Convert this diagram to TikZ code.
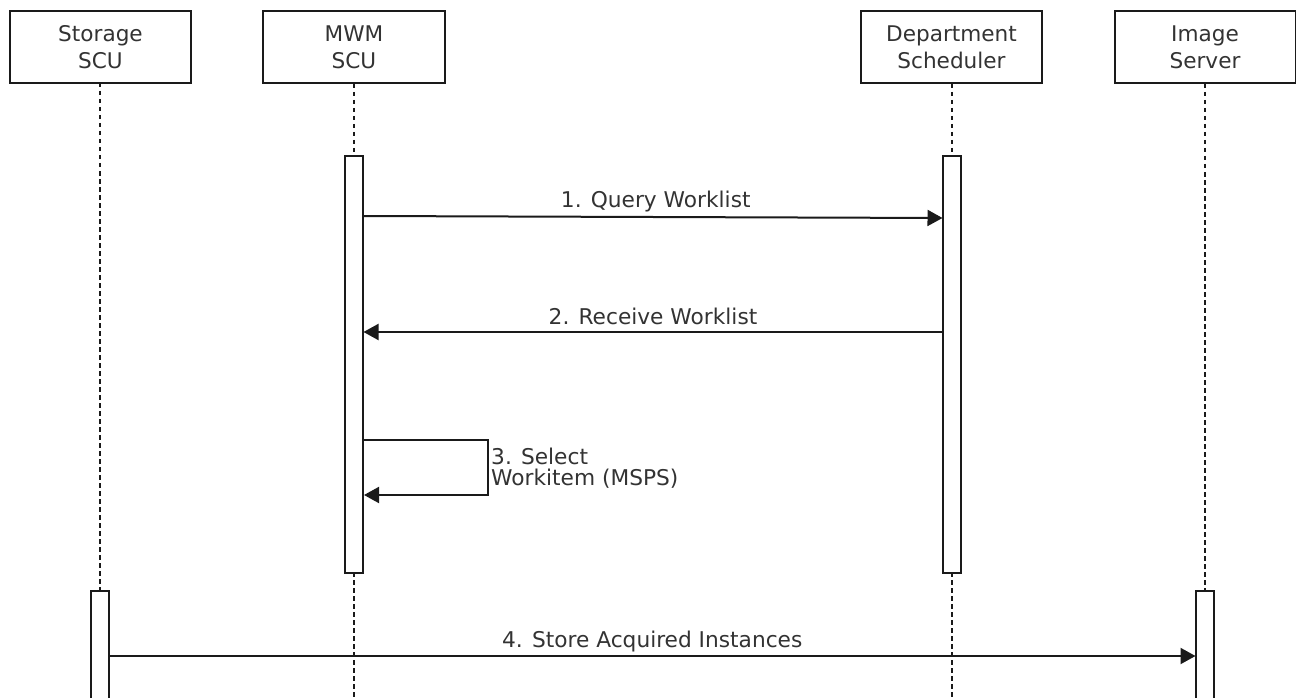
\documentclass[tikz,border=0pt]{standalone}
\usepackage{fontspec}
\setmainfont{DejaVu Sans}
\usetikzlibrary{arrows.meta,calc}
\definecolor{ink}{HTML}{1A1A1A}
\definecolor{txt}{HTML}{333333}
\tikzset{
  x=1pt,y=-1pt,
  actor/.style={draw=ink,fill=white,line width=2pt,minimum width=181pt,minimum height=72pt,inner sep=0pt,align=center,text=txt,font=\fontsize{21.6}{27}\selectfont},
  bar/.style={draw=ink,fill=white,line width=2pt,minimum width=18pt,inner sep=0pt},
  barside/.style={draw=ink,fill=white,line width=2pt},
  life/.style={draw=ink,line width=2pt,dash pattern=on 4.5pt off 3.5pt},
  msg/.style={draw=ink,line width=2pt,-{Triangle[length=15pt,width=16pt]}},
  lbl/.style={text=txt,inner sep=0pt,font=\fontsize{21.7}{21}\selectfont,align=left},
}
\begin{document}
\begin{tikzpicture}
\useasboundingbox[fill=white] (0,0) rectangle (1296,698);
\node[actor] (a) at (100.5,47) {Storage\\SCU};
\node[actor,minimum width=182pt] (b) at (354,47) {MWM\\SCU};
\node[actor] (c) at (951.5,47) {Department\\Scheduler};
\node[actor] (d) at (1205,47) {Image\\Server};
\coordinate (be) at (354,698);
\coordinate (ce) at (951.5,698);
\coordinate (at) at (100,591);
\coordinate (dt) at (1205,591);
\coordinate (as) at (100,83);
\draw[life] (as) -- (at);
\draw[life] (d.south) -- (dt);
\draw[life] (b.south) -- (be);
\draw[life] (c.south) -- (ce);
\node[bar,minimum height=417pt] (bb) at (354,364.5) {};
\node[bar,minimum height=417pt] (cb) at (951.5,364.5) {};
\path[barside] (91,700) |- (109,591) -- (109,700);
\path[barside] (1196,700) |- (1214,591) -- (1214,700);
\coordinate (ab) at (109,656);
\coordinate (db) at (1195.5,656);
\coordinate (m1s) at (364,216);
\coordinate (m1e) at (942.5,218);
\coordinate (m2s) at (942.5,332);
\coordinate (m2e) at (363.5,332);
\coordinate (m3s) at (363,440);
\coordinate (m3a) at (488,440);
\coordinate (m3b) at (488,495);
\coordinate (m3e) at (364,495);
\draw[msg] (m1s) -- node[lbl,pos=.5,xshift=2.5pt,yshift=15pt] (l1) {1. Query Worklist} (m1e);
\draw[msg] (m2s) -- node[lbl,pos=.5,yshift=16pt] (l2) {2. Receive Worklist} (m2e);
\draw[msg] (m3s) -- (m3a) -- (m3b) -- (m3e);
\node[lbl,anchor=north west] (l3) at (491,448) {3. Select\\Workitem (MSPS)};
\draw[msg] (ab) -- node[lbl,pos=.5,yshift=14pt] (l4) {4. Store Acquired Instances} (db);
\end{tikzpicture}
\end{document}
